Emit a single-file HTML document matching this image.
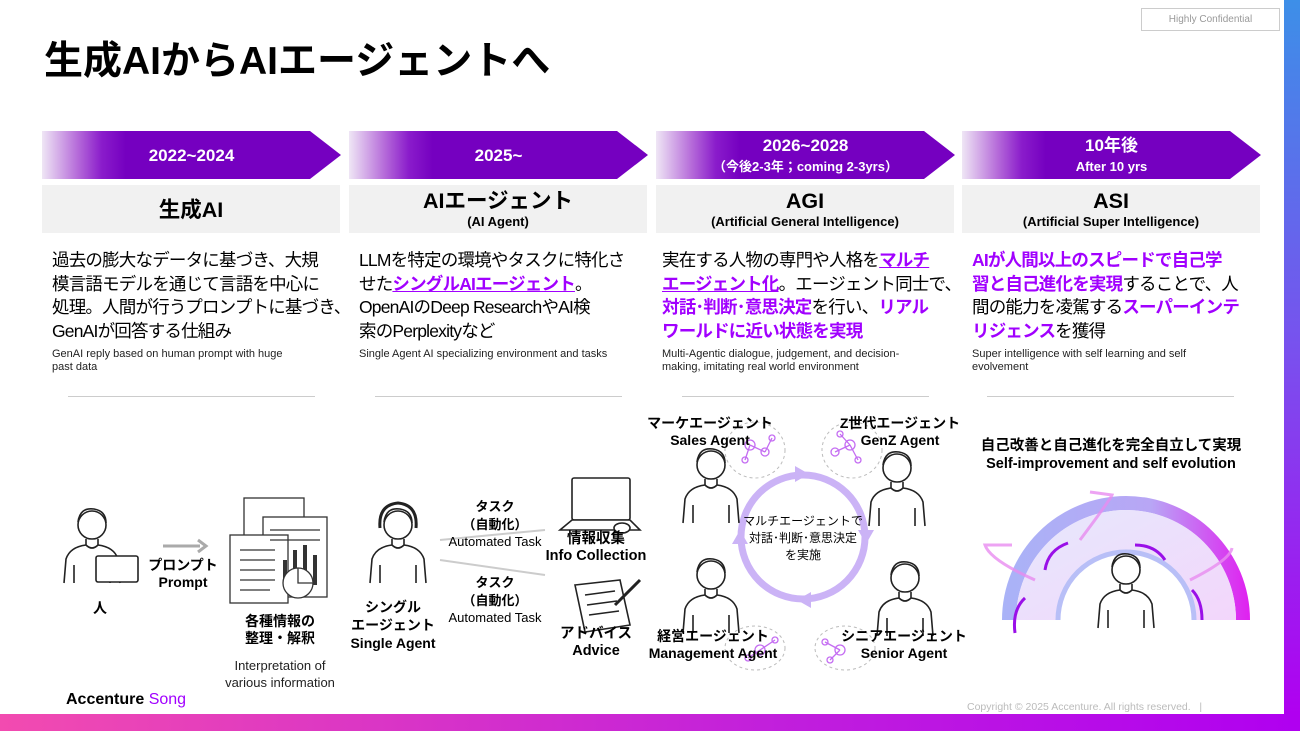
<!DOCTYPE html>
<html><head><meta charset="utf-8">
<style>
*{margin:0;padding:0;box-sizing:border-box}
body{width:1300px;height:731px;position:relative;overflow:hidden;background:#fff;font-family:"Liberation Sans","Noto Sans CJK JP",sans-serif;color:#000}
.a{position:absolute}
.c{text-align:center;white-space:nowrap}
.band{position:absolute;top:131px;height:48px;width:299px;clip-path:polygon(0 0,268px 0,299px 24px,268px 48px,0 48px);background:linear-gradient(90deg,#efe6f5 0%,#b56ad9 12%,#8a1ccb 20%,#7500c0 28%,#7500c0 100%);color:#fff;font-weight:bold;text-align:center;font-size:17px}
.gray{position:absolute;top:185px;height:48px;width:298px;background:#f1f1f1;text-align:center;font-weight:bold}
.body{position:absolute;top:249px;width:300px;font-size:17.5px;line-height:23.5px;letter-spacing:-0.8px;white-space:nowrap}
.en{position:absolute;top:348px;width:300px;font-size:11px;line-height:13px;color:#222;white-space:nowrap}
.hr{position:absolute;top:396px;height:1px;width:247px;background:#ccc}
.p{color:#a100ff;font-weight:bold}
.u{text-decoration:underline}
.lb{font-size:14px;font-weight:bold;line-height:17px}
</style></head><body>

<div class="a" style="left:44px;top:30px;font-size:39px;font-weight:bold">生成AIからAIエージェントへ</div>
<div class="a c" style="left:1141px;top:8px;width:139px;height:23px;border:1px solid #ccc;font-size:10px;color:#999;line-height:21px">Highly Confidential</div>

<div class="band" style="left:42px;line-height:50px">2022~2024</div>
<div class="band" style="left:349px;line-height:50px">2025~</div>
<div class="band" style="left:656px;padding-top:5px;line-height:20px">2026~2028<br><span style="font-size:13px">（今後2-3年；coming 2-3yrs）</span></div>
<div class="band" style="left:962px;padding-top:5px;line-height:20px">10年後<br><span style="font-size:13px">After 10 yrs</span></div>

<div class="gray" style="left:42px;font-size:21.5px;line-height:50px">生成AI</div>
<div class="gray" style="left:349px;padding-top:3px"><div style="font-size:21.5px;line-height:26px">AIエージェント</div><div style="font-size:13px;line-height:16px">(AI Agent)</div></div>
<div class="gray" style="left:656px;padding-top:3px"><div style="font-size:21.5px;line-height:26px">AGI</div><div style="font-size:13px;line-height:16px">(Artificial General Intelligence)</div></div>
<div class="gray" style="left:962px;padding-top:3px"><div style="font-size:21.5px;line-height:26px">ASI</div><div style="font-size:13px;line-height:16px">(Artificial Super Intelligence)</div></div>

<div class="body" style="left:52px">過去の膨大なデータに基づき、大規<br>模言語モデルを通じて言語を中心に<br>処理。人間が行うプロンプトに基づき、<br>GenAIが回答する仕組み</div>
<div class="body" style="left:359px">LLMを特定の環境やタスクに特化さ<br>せた<span class="p u">シングルAIエージェント</span>。<br>OpenAIのDeep ResearchやAI検<br>索のPerplexityなど</div>
<div class="body" style="left:662px">実在する人物の専門や人格を<span class="p u">マルチ</span><br><span class="p u">エージェント化</span>。エージェント同士で、<br><span class="p">対話･判断･意思決定</span>を行い、<span class="p">リアル</span><br><span class="p">ワールドに近い状態を実現</span></div>
<div class="body" style="left:972px"><span class="p">AIが人間以上のスピードで自己学</span><br><span class="p">習と自己進化を実現</span>することで、人<br>間の能力を凌駕する<span class="p">スーパーインテ</span><br><span class="p">リジェンス</span>を獲得</div>

<div class="en" style="left:52px">GenAI reply based on human prompt with huge<br>past data</div>
<div class="en" style="left:359px">Single Agent AI specializing environment and tasks</div>
<div class="en" style="left:662px">Multi-Agentic dialogue, judgement, and decision-<br>making, imitating real world environment</div>
<div class="en" style="left:972px">Super intelligence with self learning and self<br>evolvement</div>

<div class="hr" style="left:68px"></div>
<div class="hr" style="left:375px"></div>
<div class="hr" style="left:682px"></div>
<div class="hr" style="left:987px"></div>

<svg class="a" style="left:0;top:0" width="1300" height="731">
<defs>
<g id="pp" fill="none" stroke="#222" stroke-width="1.6">
<circle cx="0" cy="0" r="14" fill="#fff"/>
<path d="M-14,-3 Q-12,-18 2,-16 Q14,-14 14,-2"/>
<path d="M-6,14 L-6,20 Q-22,22 -26,34 L-28,58 M6,14 L6,20 Q22,22 26,34 L28,58 M-6,20 Q0,26 6,20 M-18,40 L-18,58 M18,40 L18,58"/>
</g>
<linearGradient id="ag" x1="0" y1="0" x2="1" y2="0"><stop offset="0" stop-color="#a9b3f7"/><stop offset="0.6" stop-color="#b8a6f5"/><stop offset="1" stop-color="#e020f0"/></linearGradient>
<linearGradient id="af" x1="0" y1="0" x2="1" y2="1"><stop offset="0" stop-color="#e6e8fc"/><stop offset="1" stop-color="#f3d6fb"/></linearGradient>
</defs>
<use href="#pp" transform="translate(92,525)"/>
<rect x="96" y="556" width="42" height="26" rx="2" fill="#fff" stroke="#222" stroke-width="1.6"/>
<path d="M163,546 L200,546" stroke="#aaa" stroke-width="3"/><path d="M198,540 L206,546 L198,552" fill="none" stroke="#aaa" stroke-width="3"/>
<g fill="#fff" stroke="#333" stroke-width="1.3">
<rect x="244" y="498" width="60" height="80"/><rect x="263" y="517" width="64" height="80"/><rect x="230" y="535" width="58" height="68"/>
<path d="M240,550h35M240,560h35M240,570h35M240,580h35M240,590h30M270,530h50M270,540h50"/>
<path d="M285,560v25M295,550v35M305,545v40M315,555v30" stroke-width="4"/>
<circle cx="298" cy="583" r="15"/><path d="M298,568v15h15"/>
</g>
<use href="#pp" transform="translate(398,525)"/>
<path d="M380,528 Q378,505 398,503 Q418,505 416,528" fill="none" stroke="#222" stroke-width="3"/>
<path d="M440,540 L545,530 M440,560 L545,575" stroke="#ccc" stroke-width="2"/>
<g fill="#fff" stroke="#222" stroke-width="1.6">
<rect x="572" y="478" width="58" height="42" rx="2"/><path d="M560,530 L640,530 L630,520 L572,520 Z"/>
<ellipse cx="622" cy="528" rx="8" ry="5"/>
<path d="M575,585 L620,580 L630,625 L585,632 Z"/><path d="M585,595l30,-4M587,605l30,-4M589,615l30,-4"/>
<path d="M615,605 L640,580" stroke-width="3"/>
</g>
<circle cx="803" cy="537" r="62" fill="none" stroke="#cbb3f6" stroke-width="7"/>
<g fill="#cbb3f6"><path d="M795,466 l14,8 -14,8z"/><path d="M811,608 l-14,-8 14,-8z"/><path d="M874,530 l-8,14 -8,-14z"/><path d="M732,544 l8,-14 8,14z"/></g>
<use href="#pp" transform="translate(711,465)"/>
<use href="#pp" transform="translate(897,468)"/>
<use href="#pp" transform="translate(711,575)"/>
<use href="#pp" transform="translate(905,578)"/>
<g fill="none" stroke="#bbb" stroke-dasharray="3 3"><ellipse cx="755" cy="450" rx="30" ry="28"/><ellipse cx="852" cy="450" rx="30" ry="28"/><ellipse cx="755" cy="648" rx="30" ry="22"/><ellipse cx="845" cy="648" rx="30" ry="22"/></g>
<g fill="none" stroke="#c46cf2" stroke-width="1.3">
<circle cx="750" cy="445" r="5"/><circle cx="765" cy="452" r="4"/><circle cx="745" cy="460" r="3"/><circle cx="772" cy="438" r="3"/><path d="M750,445L765,452M750,445L745,460M765,452L772,438"/>
<circle cx="850" cy="445" r="5"/><circle cx="835" cy="452" r="4"/><circle cx="858" cy="460" r="3"/><circle cx="840" cy="434" r="3"/><path d="M850,445L835,452M850,445L858,460M850,445L840,434"/>
<circle cx="760" cy="650" r="5"/><circle cx="775" cy="640" r="3"/><circle cx="748" cy="658" r="3"/><path d="M760,650L775,640M760,650L748,658"/>
<circle cx="840" cy="650" r="5"/><circle cx="825" cy="642" r="3"/><circle cx="830" cy="660" r="3"/><path d="M840,650L825,642M840,650L830,660"/>
</g>
<path d="M1002,620 A124,124 0 0 1 1250,620 L1236,620 A110,110 0 0 0 1016,620 Z" fill="url(#ag)"/>
<path d="M1016,620 A110,110 0 0 1 1236,620 L1194,620 A68,68 0 0 0 1058,620 Z" fill="url(#af)"/>
<path d="M1058,620 A68,68 0 0 1 1194,620" fill="none" stroke="#b8bff7" stroke-width="5"/>
<use href="#pp" transform="translate(1126,570)"/>
<g fill="none" stroke="#9a10e8" stroke-width="3"><path d="M1015,633 Q1012,610 1025,598"/><path d="M1045,570 Q1048,550 1068,543"/><path d="M1135,545 Q1155,545 1165,560"/><path d="M1192,590 Q1202,600 1202,620"/></g>
<g fill="none" stroke="#e88cf0" stroke-width="3" opacity="0.8"><path d="M1035,580 Q990,560 985,545 L1012,545"/><path d="M1080,540 Q1110,500 1112,495 L1090,492"/><path d="M1190,580 Q1230,560 1232,548"/></g>
</svg>

<div class="a c lb" style="left:133px;top:557px;width:100px">プロンプト<br>Prompt</div>
<div class="a c lb" style="left:80px;top:600px;width:40px">人</div>
<div class="a c lb" style="left:220px;top:613px;width:120px">各種情報の<br>整理・解釈</div>
<div class="a c" style="left:200px;top:657px;width:160px;font-size:13px;line-height:17px;color:#222">Interpretation of<br>various information</div>
<div class="a c lb" style="left:333px;top:598px;width:120px;line-height:18px">シングル<br>エージェント<br>Single Agent</div>
<div class="a c" style="left:430px;top:498px;width:130px;font-size:13px;line-height:17.5px;font-weight:bold">タスク<br>（自動化）<br><span style="font-weight:normal">Automated Task</span></div>
<div class="a c" style="left:430px;top:574px;width:130px;font-size:13px;line-height:17.5px;font-weight:bold">タスク<br>（自動化）<br><span style="font-weight:normal">Automated Task</span></div>
<div class="a c lb" style="left:530px;top:531px;width:132px;font-size:14.5px">情報収集<br>Info Collection</div>
<div class="a c lb" style="left:546px;top:626px;width:100px;font-size:14.5px">アドバイス<br>Advice</div>
<div class="a c lb" style="left:640px;top:415px;width:140px">マーケエージェント<br>Sales Agent</div>
<div class="a c lb" style="left:830px;top:415px;width:140px">Z世代エージェント<br>GenZ Agent</div>
<div class="a c lb" style="left:628px;top:628px;width:170px">経営エージェント<br>Management Agent</div>
<div class="a c lb" style="left:834px;top:628px;width:140px">シニアエージェント<br>Senior Agent</div>
<div class="a c" style="left:738px;top:513px;width:130px;font-size:12px;line-height:17px">マルチエージェントで<br>対話･判断･意思決定<br>を実施</div>
<div class="a c lb" style="left:960px;top:437px;width:302px;font-size:14.5px;line-height:18px">自己改善と自己進化を完全自立して実現<br>Self-improvement and self evolution</div>

<div class="a" style="left:66px;top:691px;font-size:16px;font-weight:bold">Accenture <span style="color:#a100ff;font-weight:normal">Song</span></div>
<div class="a" style="left:967px;top:701px;font-size:10.5px;color:#bbb">Copyright © 2025 Accenture. All rights reserved. &nbsp; |</div>
<div class="a" style="left:0;top:714px;width:1300px;height:17px;background:linear-gradient(90deg,#f24bb0,#c11fdc 60%,#b000f0)"></div>
<div class="a" style="left:1284px;top:0;width:16px;height:714px;background:linear-gradient(180deg,#3d8fe8,#7a4fee 50%,#b000f0)"></div>
</body></html>
